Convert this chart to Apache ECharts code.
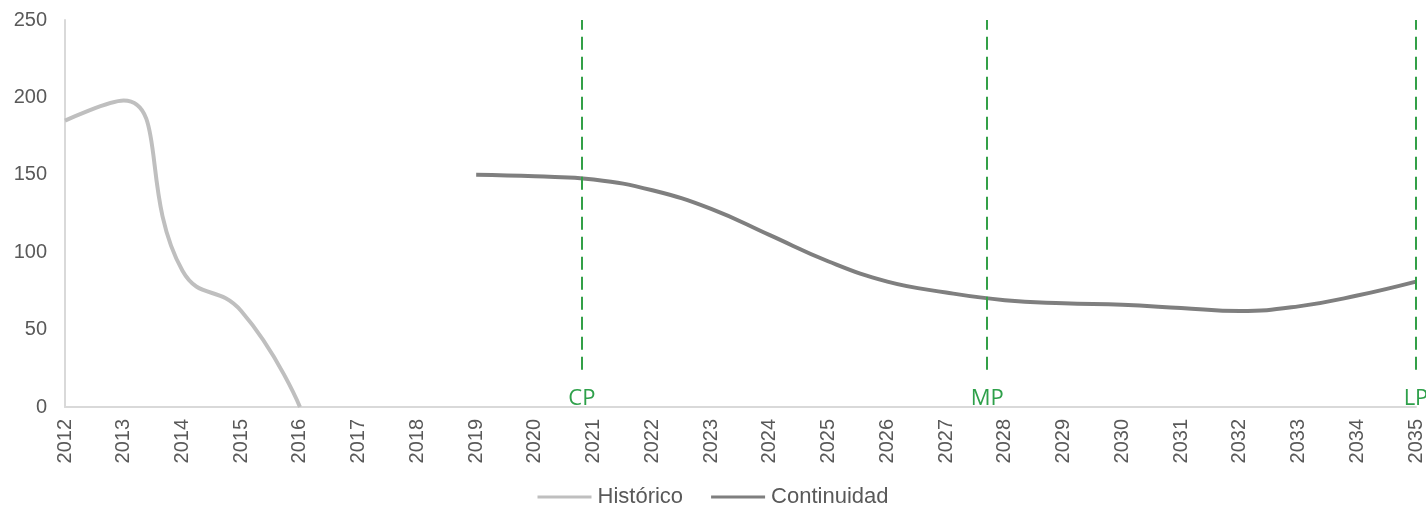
<!DOCTYPE html>
<html>
<head>
<meta charset="utf-8">
<script src="https://cdn.jsdelivr.net/npm/echarts@6/dist/echarts.min.js"></script>
<style>
  html, body { margin: 0; padding: 0; background: #fff; }
  #chart { width: 1426px; height: 510px; }
</style>
</head>
<body>
<div id="chart"></div>
<script>
var historicoYears = [2012, 2013, 2014, 2015, 2016]
var historicoValues = [185, 198, 88, 62, 0]

var continuidadYears = [2019, 2020, 2021, 2022, 2023, 2024, 2025, 2026, 2027, 2028, 2029, 2030, 2031, 2032, 2033, 2034, 2035]
var continuidadValues = [150, 149, 147, 140, 128, 111, 94, 81, 74, 69, 67, 66, 64, 62, 65, 72, 81]

var horizonLabels = ['CP', 'MP', 'LP']
var horizonYears = [2020.8, 2027.7, 2035]

function pairs(xs, vs) {
  var out = []
  for (var i = 0; i < xs.length; i++) out.push([xs[i], vs[i]])
  return out
}

var horizonLines = horizonYears.map(function (x, i) {
  return [
    { coord: [x, 24], label: { formatter: horizonLabels[i] } },
    { coord: [x, 250] }
  ]
})

var font = 'Liberation Sans, Arial, sans-serif'

var chart = echarts.init(document.getElementById('chart'))
chart.setOption({
  animation: false,
  grid: { left: 65, right: 8, top: 20, bottom: 103, containLabel: false },
  legend: {
    bottom: -3,
    left: 'center',
    icon: 'rect',
    itemWidth: 54,
    itemHeight: 3,
    itemGap: 28,
    textStyle: { color: '#595959', fontSize: 22, fontFamily: font, padding: [0, 0, 0, 1] },
    data: [
      { name: 'Histórico', textStyle: { width: 92 } },
      { name: 'Continuidad', textStyle: { width: 129 } }
    ]
  },
  xAxis: {
    type: 'value',
    min: 2012,
    max: 2035,
    interval: 1,
    axisLine: { show: true, lineStyle: { color: '#d9d9d9', width: 2 } },
    axisTick: { show: false },
    splitLine: { show: false },
    axisLabel: {
      rotate: 90,
      color: '#595959',
      fontSize: 20,
      margin: 12,
      fontFamily: font,
      showMinLabel: true,
      showMaxLabel: true,
      formatter: function (v) { return String(v) }
    }
  },
  yAxis: {
    type: 'value',
    min: 0,
    max: 250,
    interval: 50,
    axisLine: { show: true, lineStyle: { color: '#d9d9d9', width: 2 } },
    axisTick: { show: false },
    splitLine: { show: false },
    axisLabel: {
      color: '#595959',
      fontSize: 20,
      margin: 18,
      fontFamily: font
    }
  },
  series: [
    {
      name: 'Histórico',
      type: 'line',
      smooth: 0.5,
      showSymbol: false,
      lineStyle: { color: '#bfbfbf', width: 4 },
      itemStyle: { color: '#bfbfbf' },
      data: pairs(historicoYears, historicoValues)
    },
    {
      name: 'Continuidad',
      type: 'line',
      smooth: 0.45,
      showSymbol: false,
      lineStyle: { color: '#7f7f7f', width: 4 },
      itemStyle: { color: '#7f7f7f' },
      data: pairs(continuidadYears, continuidadValues)
    },
    {
      name: 'horizontes',
      type: 'line',
      clip: false,
      data: [],
      markLine: {
        silent: true,
        symbol: ['none', 'none'],
        lineStyle: { color: '#33a047', type: [13, 7], width: 2 },
        label: {
          show: true,
          position: 'start',
          distance: 18,
          color: '#2ea04a',
          fontSize: 22,
          fontFamily: 'Open Sans, sans-serif'
        },
        data: horizonLines
      }
    }
  ]
})
</script>
</body>
</html>
